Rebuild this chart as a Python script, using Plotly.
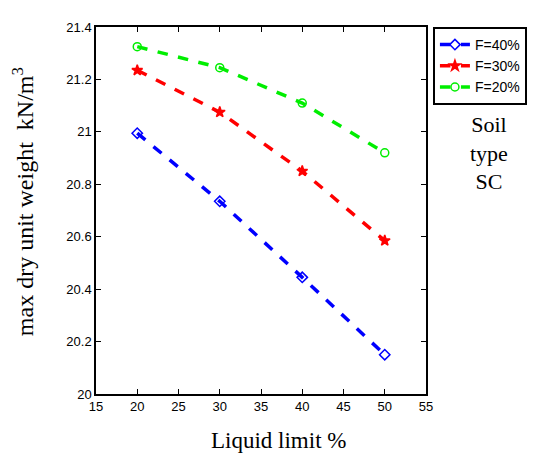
import plotly.graph_objects as go

liquid_limit = [20, 30, 40, 50]
f40 = [20.995, 20.735, 20.445, 20.15]
f30 = [21.235, 21.075, 20.85, 20.585]
f20 = [21.325, 21.245, 21.11, 20.92]
names = ["F=40%", "F=30%", "F=20%"]
colors = ["#0000ff", "#ff0000", "#00ee00"]
symbols = ["diamond-open", "star", "circle-open"]

fig = go.Figure()
for ys, name, c, s in zip([f40, f30, f20], names, colors, symbols):
    fig.add_trace(go.Scatter(
        x=liquid_limit, y=ys, name=name, mode="lines+markers",
        line=dict(color=c, width=3.5, dash="dash"),
        marker=dict(symbol=s, size=8, color=c, line=dict(color=c, width=1.5)),
    ))

axis_common = dict(
    showgrid=False, zeroline=False, showline=True, linecolor="black", linewidth=1.5,
    mirror="ticks", ticks="inside", ticklen=5, tickcolor="black",
    tickfont=dict(family="Arial, Liberation Sans", size=13, color="black"),
)
fig.update_xaxes(range=[15, 55], dtick=5, tick0=15, **axis_common)
fig.update_yaxes(range=[20, 21.4], dtick=0.2, tick0=20, **axis_common)

fig.add_annotation(xref="paper", yref="paper", x=0.552, y=-0.126, xanchor="center", yanchor="middle",
                   text="Liquid limit %", showarrow=False,
                   font=dict(family="Liberation Serif", size=23, color="black"))
fig.add_annotation(xref="paper", yref="paper", x=-0.221, y=0.523, xanchor="center", yanchor="middle",
                   text="max dry unit weight  kN/m<sup>3</sup>", showarrow=False, textangle=-90,
                   font=dict(family="Liberation Serif", size=24, color="black"))
fig.add_annotation(xref="paper", yref="paper", x=1.19, y=0.774, xanchor="center", yanchor="top",
                   text="Soil<br>type<br>SC", showarrow=False, align="center",
                   font=dict(family="Liberation Serif", size=22, color="black"))

fig.update_layout(
    width=542, height=457,
    margin=dict(l=88, r=124, t=13, b=71),
    plot_bgcolor="white", paper_bgcolor="white",
    legend=dict(x=1.021, y=1.0, xanchor="left", yanchor="top",
                bordercolor="black", borderwidth=2, bgcolor="white",
                font=dict(family="Arial, Liberation Sans", size=14, color="black"),
                itemwidth=30, tracegroupgap=0),
    showlegend=True,
)
fig.write_html("out.html")
